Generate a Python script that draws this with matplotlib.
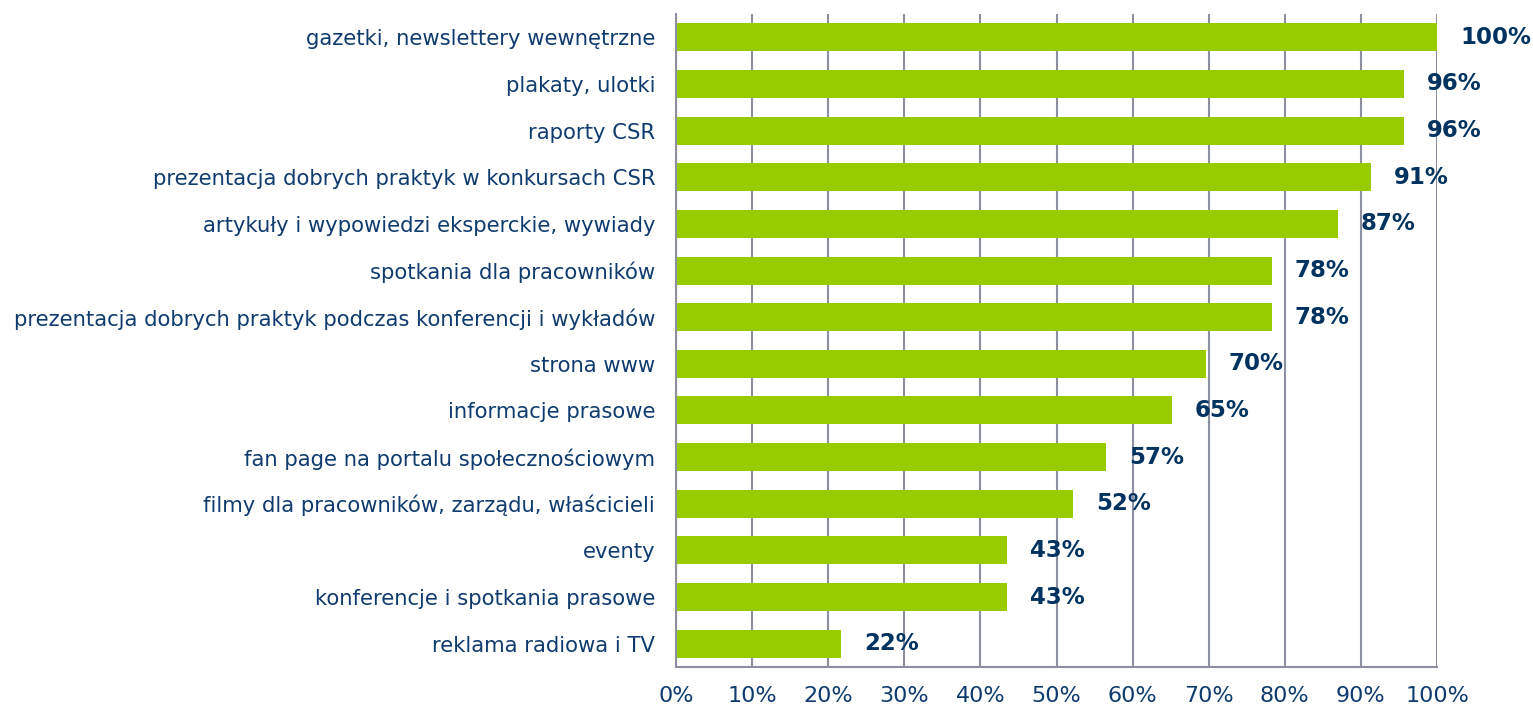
import matplotlib.pyplot as plt
import numpy as np

categories = [
    "gazetki, newslettery wewnętrzne",
    "plakaty, ulotki",
    "raporty CSR",
    "prezentacja dobrych praktyk w konkursach CSR",
    "artykuły i wypowiedzi eksperckie, wywiady",
    "spotkania dla pracowników",
    "prezentacja dobrych praktyk podczas konferencji i wykładów",
    "strona www",
    "informacje prasowe",
    "fan page na portalu społecznościowym",
    "filmy dla pracowników, zarządu, właścicieli",
    "eventy",
    "konferencje i spotkania prasowe",
    "reklama radiowa i TV",
]
values = [100, 95.7, 95.7, 91.3, 87.0, 78.3, 78.3, 69.6, 65.2, 56.5, 52.2, 43.5, 43.5, 21.7]
value_labels = ["100%", "96%", "96%", "91%", "87%", "78%", "78%", "70%", "65%", "57%", "52%", "43%", "43%", "22%"]
ticks = [0, 10, 20, 30, 40, 50, 60, 70, 80, 90, 100]
tick_labels = ["{}%".format(t) for t in ticks]

bar_color = "#99cc00"
text_color = "#0f3b6e"
value_color = "#00335f"
grid_color = "#8c8fa0"

fig = plt.figure(figsize=(15.33, 7.09), dpi=100)
ax = fig.add_axes([676 / 1533, 1 - 667 / 709, 761 / 1533, 653 / 709])

y = np.arange(len(categories))
ax.barh(y, values, height=0.6, color=bar_color, zorder=2)

for yi, v, lab in zip(y, values, value_labels):
    ax.annotate(lab, (v, yi), xytext=(16.5, 0), textcoords="offset points",
                ha="left", va="center", fontsize=16.5, fontweight="bold", color=value_color, zorder=3)

ax.set_xlim(0, 100)
ax.set_ylim(len(categories) - 0.5, -0.5)
ax.set_xticks(ticks)
ax.set_xticklabels(tick_labels, fontsize=16, color=text_color)
ax.set_yticks(y)
ax.set_yticklabels(categories, fontsize=15.2, color=text_color)
ax.tick_params(axis="both", length=0)
ax.tick_params(axis="x", pad=14)
ax.tick_params(axis="y", pad=15)

ax.grid(axis="x", color=grid_color, linewidth=1.5, zorder=1)
for side in ["top", "right"]:
    ax.spines[side].set_visible(False)
for side in ["left", "bottom"]:
    ax.spines[side].set_color(grid_color)
    ax.spines[side].set_linewidth(1.5)

fig.savefig("out.png", dpi=100)
